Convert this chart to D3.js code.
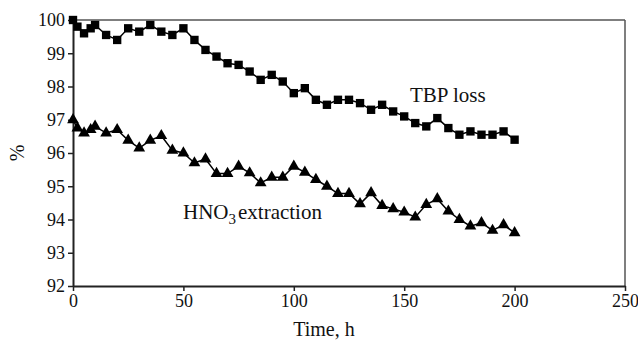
<!DOCTYPE html>
<html><head><meta charset="utf-8">
<script src="https://cdn.jsdelivr.net/npm/d3@7"></script>
<style>body{margin:0;background:#fff}svg{display:block}text{font-family:"Liberation Serif","Times New Roman",serif}</style>
</head><body><svg id="c" width="638" height="342"></svg>
<script>
const tbpTime = [0,2,5,8,10,15,20,25,30,35,40,45,50,55,60,65,70,75,80,85,90,95,100,105,110,115,120,125,130,135,140,145,150,155,160,165,170,175,180,185,190,195,200];
const tbpLoss = [100,99.8,99.6,99.75,99.85,99.55,99.4,99.75,99.65,99.85,99.65,99.55,99.75,99.4,99.1,98.9,98.7,98.65,98.45,98.2,98.35,98.15,97.8,97.95,97.6,97.45,97.6,97.6,97.5,97.3,97.45,97.25,97.1,96.9,96.8,97.05,96.75,96.55,96.65,96.55,96.55,96.65,96.4];
const hnoTime = [0,2,5,8,10,15,20,25,30,35,40,45,50,55,60,65,70,75,80,85,90,95,100,105,110,115,120,125,130,135,140,145,150,155,160,165,170,175,180,185,190,195,200];
const hnoExtraction = [97,96.75,96.6,96.7,96.8,96.6,96.7,96.38,96.15,96.38,96.52,96.08,96.0,95.7,95.82,95.38,95.38,95.6,95.4,95.1,95.27,95.27,95.6,95.42,95.2,95.0,94.78,94.78,94.47,94.8,94.42,94.32,94.22,94.07,94.45,94.62,94.25,94.0,93.8,93.9,93.67,93.84,93.6];
const xTicks = [0,50,100,150,200,250];
const yTicks = [92,93,94,95,96,97,98,99,100];

const svg = d3.select("#c");
const m = {l:73, t:20, r:13, b:56};
const W = 638 - m.l - m.r, H = 342 - m.t - m.b;
const x = d3.scaleLinear().domain([0,250]).range([0,W]);
const y = d3.scaleLinear().domain([92,100]).range([H,0]);
const g = svg.append("g").attr("transform",`translate(${m.l},${m.t})`);

// frame top/right
g.append("line").attr("x1",0).attr("x2",W).attr("y1",0).attr("y2",0).attr("stroke","#555").attr("stroke-width",1.5);
g.append("line").attr("x1",W).attr("x2",W).attr("y1",0).attr("y2",H).attr("stroke","#555").attr("stroke-width",1.5);

const xa = g.append("g").attr("transform",`translate(0,${H})`).call(d3.axisBottom(x).tickValues(xTicks).tickSize(5).tickPadding(3).tickSizeOuter(0));
const ya = g.append("g").call(d3.axisLeft(y).tickValues(yTicks).tickSize(5).tickPadding(3).tickSizeOuter(0));
[xa,ya].forEach(a=>{
  a.select(".domain").attr("stroke","#222").attr("stroke-width",2);
  a.selectAll(".tick line").attr("stroke","#222").attr("stroke-width",1.5);
  a.selectAll(".tick text").attr("fill","#111").style("font-size","18px");
});

const line = d3.line().x(d=>x(d[0])).y(d=>y(d[1]));
const tbp = tbpTime.map((t,i)=>[t,tbpLoss[i]]);
const hno = hnoTime.map((t,i)=>[t,hnoExtraction[i]]);
g.append("path").datum(tbp).attr("d",line).attr("fill","none").attr("stroke","#000").attr("stroke-width",1.5);
g.append("path").datum(hno).attr("d",line).attr("fill","none").attr("stroke","#000").attr("stroke-width",1.5);
const sq = d3.symbol().type(d3.symbolSquare).size(70);
const tri = d3.symbol().type(d3.symbolTriangle).size(60);
g.selectAll(".sq").data(tbp).join("path").attr("d",sq).attr("transform",d=>`translate(${x(d[0])},${y(d[1])})`).attr("fill","#000");
g.selectAll(".tr").data(hno).join("path").attr("d",tri).attr("transform",d=>`translate(${x(d[0])},${y(d[1])})`).attr("fill","#000");

svg.append("text").attr("x",410).attr("y",102).style("font-size","21px").attr("fill","#111").text("TBP loss");
const ht = svg.append("text").attr("x",183).attr("y",219).style("font-size","21px").attr("fill","#111");
ht.append("tspan").text("HNO");
ht.append("tspan").attr("dy",5).style("font-size","15px").text("3");
ht.append("tspan").attr("dy",-5).attr("dx",2).text("extraction");

svg.append("text").attr("x",m.l+W/2 - 25).attr("y",336).attr("text-anchor","middle").style("font-size","20px").attr("fill","#111").text("Time, h");
svg.append("text").attr("transform","translate(24,153) rotate(-90)").attr("text-anchor","middle").style("font-size","20px").attr("fill","#111").text("%");
</script></body></html>
